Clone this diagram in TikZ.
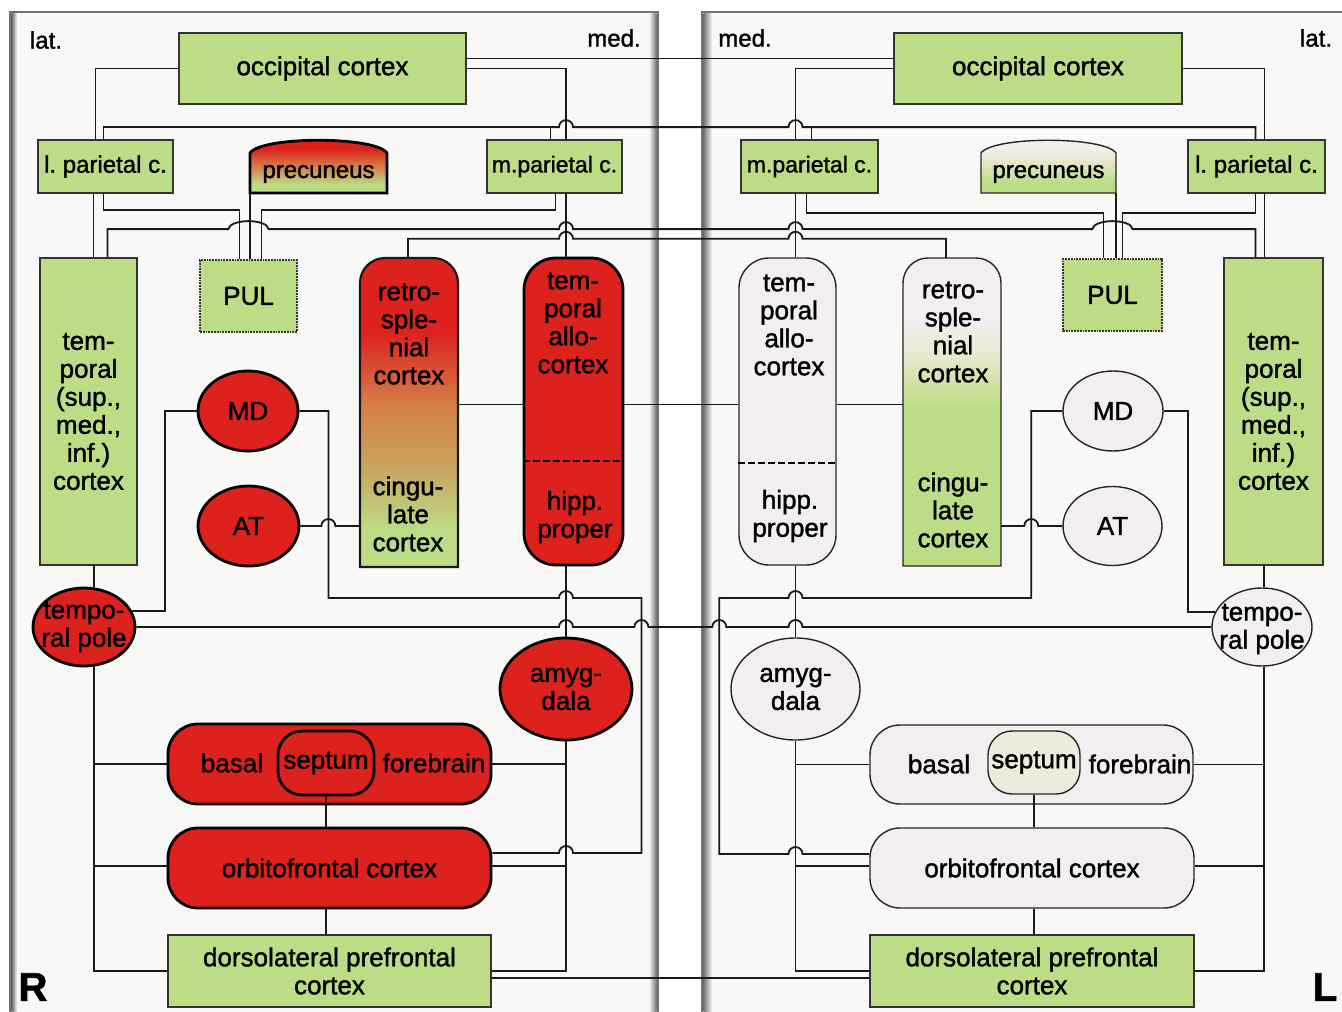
\documentclass[tikz,border=0pt]{standalone}
\usepackage{fontspec}
\setmainfont{Liberation Sans}[FakeBold=1.4]
\usetikzlibrary{shapes,calc}

\definecolor{grn}{RGB}{188,221,133}
\definecolor{redc}{RGB}{221,33,29}
\definecolor{wht}{RGB}{243,239,238}
\definecolor{sepc}{RGB}{238,234,220}
\definecolor{panel}{RGB}{250,248,246}
\definecolor{orng}{RGB}{214,128,72}
\definecolor{tanc}{RGB}{198,165,95}
\definecolor{beig}{RGB}{232,232,205}

\pgfdeclareverticalshading{retroR}{100bp}{color(0bp)=(grn); color(31bp)=(grn); color(41bp)=(tanc); color(51bp)=(orng); color(63bp)=(redc); color(100bp)=(redc)}
\pgfdeclareverticalshading{retroL}{100bp}{color(0bp)=(grn); color(51bp)=(grn); color(59bp)=(beig); color(65bp)=(wht); color(100bp)=(wht)}
\pgfdeclareverticalshading{precR}{100bp}{color(0bp)=(grn); color(32bp)=(grn); color(48bp)=(orng); color(64bp)=(redc); color(100bp)=(redc)}
\pgfdeclareverticalshading{precL}{100bp}{color(0bp)=(grn); color(34bp)=(grn); color(54bp)=(beig); color(66bp)=(wht); color(100bp)=(wht)}

% jumps of a wire over another one
\newcommand\hop[1]{-- ($(#1)+(-7pt,0pt)$) arc (180:0:7pt)}
\newcommand\poh[1]{-- ($(#1)+(7pt,0pt)$) arc (0:180:7pt)}
\newcommand\hopw[1]{-- ($(#1)+(-20pt,0pt)$) arc (180:0:20pt and 8pt)}

\begin{document}
\begin{tikzpicture}[x=1pt, y=-1pt,
  every node/.style={font=\fontsize{26}{28}\selectfont, align=center, inner sep=0pt},
  pfont/.style={font=\fontsize{24}{28}\selectfont},
  gbox/.style 2 args={rectangle, draw=black!80, line width=1.8pt, fill=grn, minimum width=#1, minimum height=#2},
  pbox/.style 2 args={rectangle, draw=black!80, densely dotted, line width=1.8pt, fill=grn, minimum width=#1, minimum height=#2},
  rbox/.style 2 args={rectangle, rounded corners=30pt, draw=black, line width=2.8pt, fill=redc, minimum width=#1, minimum height=#2},
  wbox/.style 2 args={rectangle, rounded corners=30pt, draw=black!85, line width=1.4pt, fill=wht, minimum width=#1, minimum height=#2},
  rell/.style 2 args={ellipse, draw=black, line width=2.8pt, fill=redc, minimum width=#1, minimum height=#2},
  well/.style 2 args={ellipse, draw=black!85, line width=1.4pt, fill=wht, minimum width=#1, minimum height=#2},
  sepline/.style={line width=2.6pt, dash pattern=on 7pt off 3pt},
  wire/.style={line width=1.8pt, draw=black!90}]

  \useasboundingbox (0,0) rectangle (1342,1012);
  \fill[white] (0,0) rectangle (1342,1012);

  %% the two panels
  \filldraw[fill=panel, draw=black!55, line width=2.5pt] (10,12) rectangle (658,1040);
  \filldraw[fill=panel, draw=black!55, line width=2.5pt] (702,12) rectangle (1360,1040);
  \shade[left color=black!60, right color=panel] (11.5,13.5) rectangle (17,1012);
  \shade[left color=panel, right color=black!55] (649,13.5) rectangle (656.5,1012);
  \shade[left color=black!55, right color=panel] (703.5,13.5) rectangle (712,1012);

  \node[font=\fontsize{24}{28}\selectfont] (latR) at (46,40) {lat.};
  \node[font=\fontsize{24}{28}\selectfont] (medR) at (614,38) {med.};
  \node[font=\fontsize{24}{28}\selectfont] (medL) at (745,38) {med.};
  \node[font=\fontsize{24}{28}\selectfont] (latL) at (1316,38) {lat.};
  \node[font=\fontsize{40}{40}\selectfont\bfseries] (labR) at (33,987) {R};
  \node[font=\fontsize{40}{40}\selectfont\bfseries] (labL) at (1325,987) {L};

  %% right hemisphere (left panel)
  \node[gbox={287pt}{71pt}] (occR) at (322.5,68.5) {occipital cortex};
  \node[gbox={135pt}{53pt}, pfont] (lparR) at (105.5,166.5) {l.\ parietal c.};
  \node[gbox={135pt}{53pt}, font=\fontsize{23}{28}\selectfont] (mparR) at (554.5,166.5) {m.parietal c.};
  \shadedraw[shading=precR, draw=black, line width=2.8pt] (250,193) -- (250,153) .. controls (262,136) and (375,136) .. (387,153) -- (387,193) -- cycle;
  \node[pfont, minimum width=137pt, minimum height=38pt] (precR) at (318.5,174) {precuneus};
  \node[pbox={97pt}{72pt}] (PULR) at (248.5,296) {PUL};
  \node[gbox={97pt}{307pt}] (tempR) at (88.5,411.5) {tem-\\poral\\(sup.,\\med.,\\inf.)\\cortex};
  \shadedraw[shading=retroR, draw=black!90, line width=2.2pt] (360,567) -- (360,283) arc (180:90:25pt) -- (433,258) arc (90:0:25pt) -- (458,567) -- cycle;
  \node[minimum width=98pt, minimum height=309pt] (rsR) at (409,412.5) {};
  \node (rsRa) at (409,334) {retro-\\sple-\\nial\\cortex};
  \node (rsRb) at (408,514) {cingu-\\late\\cortex};
  \node[rbox={99pt}{307pt}, rounded corners=32pt] (allR) at (573.5,411.5) {};
  \draw[sepline] ([yshift=-49.5pt]allR.west) -- ([yshift=-49.5pt]allR.east);
  \node (allRa) at (573,323) {tem-\\poral\\allo-\\cortex};
  \node (allRb) at (575,517) {hipp.\\proper};
  \node[rell={100pt}{80pt}] (mdR) at (248,411) {MD};
  \node[rell={101pt}{80pt}] (atR) at (248.5,526) {AT};
  \node[rell={102pt}{78pt}] (tpR) at (84,627) {};
  \node (tpRt) at (84,627) {tempo-\\ral pole};
  \node[rell={132pt}{102pt}] (amyR) at (566,689) {amyg-\\dala};
  \node[rbox={323pt}{80pt}] (bfR) at (329.5,764) {};
  \node[rbox={96pt}{64pt}, rounded corners=24pt] (sepR) at (326,763) {septum};
  \node (basR) at (232,763) {basal};
  \node (fbR) at (434,763) {forebrain};
  \node[rbox={323pt}{80pt}] (ofR) at (329.5,868) {orbitofrontal cortex};
  \node[gbox={323pt}{72pt}] (dlR) at (329.5,971) {dorsolateral prefrontal\\cortex};

  %% left hemisphere (right panel)
  \node[gbox={288pt}{71pt}] (occL) at (1038,68.5) {occipital cortex};
  \node[gbox={137pt}{53pt}, font=\fontsize{23}{28}\selectfont] (mparL) at (809.5,166.5) {m.parietal c.};
  \node[gbox={137pt}{53pt}, pfont] (lparL) at (1256.5,166.5) {l.\ parietal c.};
  \shadedraw[shading=precL, draw=black!85, line width=1.4pt] (981,193) -- (981,153) .. controls (993,136) and (1104,136) .. (1116,153) -- (1116,193) -- cycle;
  \node[pfont, minimum width=135pt, minimum height=38pt] (precL) at (1048.5,174) {precuneus};
  \node[pbox={99pt}{72pt}] (PULL) at (1112.5,295) {PUL};
  \node[wbox={97pt}{307pt}] (allL) at (787.5,411.5) {};
  \draw[sepline] ([yshift=-51.5pt]allL.west) -- ([yshift=-51.5pt]allL.east);
  \node (allLa) at (789,325) {tem-\\poral\\allo-\\cortex};
  \node (allLb) at (790,516) {hipp.\\proper};
  \shadedraw[shading=retroL, draw=black!85, line width=1.4pt] (903,566) -- (903,283) arc (180:90:25pt) -- (976,258) arc (90:0:25pt) -- (1001,566) -- cycle;
  \node[minimum width=98pt, minimum height=308pt] (rsL) at (952,412) {};
  \node (rsLa) at (953,332) {retro-\\sple-\\nial\\cortex};
  \node (rsLb) at (953,510) {cingu-\\late\\cortex};
  \node[well={100pt}{80pt}] (mdL) at (1113,411) {MD};
  \node[well={99pt}{79pt}] (atL) at (1112.5,526) {AT};
  \node[gbox={99pt}{307pt}] (tempL) at (1273.5,411.5) {tem-\\poral\\(sup.,\\med.,\\inf.)\\cortex};
  \node[well={100pt}{78pt}] (tpL) at (1262,627) {};
  \node (tpLt) at (1262,629) {tempo-\\ral pole};
  \node[well={129pt}{102pt}] (amyL) at (795.5,689) {amyg-\\dala};
  \node[wbox={323pt}{79pt}] (bfL) at (1031.5,764.5) {};
  \node[wbox={92pt}{63pt}, fill=sepc, rounded corners=24pt] (sepL) at (1034,762.5) {septum};
  \node (basL) at (939,764) {basal};
  \node (fbL) at (1140,764) {forebrain};
  \node[wbox={324pt}{80pt}] (ofL) at (1032,868) {orbitofrontal cortex};
  \node[gbox={324pt}{72pt}] (dlL) at (1032,971) {dorsolateral prefrontal\\cortex};

  %% helper points
  \coordinate (busP) at ([yshift=12pt]lparR.north);
  \coordinate (busT) at ([yshift=28pt]tempR.north);
  \coordinate (busS) at ([yshift=19pt]rsR.north);
  \coordinate (yAll) at ([yshift=8pt]rsR.east);
  \coordinate (lparRn) at ([xshift=-2pt]lparR.north);
  \coordinate (mparRn) at ([xshift=-4pt]mparR.north);
  \coordinate (mparLn) at ([xshift=2pt]mparL.north);
  \coordinate (lparLb) at ([xshift=-1pt]lparL.north);
  \coordinate (lparLn) at ([xshift=8pt]lparL.north);
  \coordinate (lparRt) at ([xshift=-12pt]lparR.south);
  \coordinate (lparLt) at ([xshift=8pt]lparL.south);
  \coordinate (tempRn) at ([xshift=19pt]tempR.north);
  \coordinate (tempLn) at ([xshift=-18pt]tempL.north);
  \coordinate (rsRn) at ([xshift=-1pt]rsR.north);
  \coordinate (rsLn) at ([xshift=-6pt]rsL.north);
  \coordinate (mdRx) at ([xshift=29pt]mdR.east);
  \coordinate (mdRy) at ([yshift=-187pt]mdR.east);
  \coordinate (mdRz) at ([xshift=17pt]allR.east);
  \coordinate (mdRw) at ([xshift=-32pt]mdR.west);
  \coordinate (mdLx) at ([xshift=-31pt]mdL.west);
  \coordinate (mdLz) at ([xshift=-19pt]allL.west);
  \coordinate (mdLe) at ([xshift=24pt]mdL.east);
  \coordinate (ofRa) at ([yshift=15pt]ofR.east);
  \coordinate (ofLa) at ([yshift=14pt]ofL.west);
  \coordinate (ofRw) at ([yshift=2pt]ofR.west);
  \coordinate (ofRe) at ([yshift=2pt]ofR.east);
  \coordinate (ofLw) at ([yshift=2pt]ofL.west);
  \coordinate (ofLe) at ([yshift=2pt]ofL.east);
  \coordinate (tpRn) at ([xshift=10pt]tpR.north);
  \coordinate (tpRs) at ([xshift=10pt]tpR.south);
  \coordinate (tpLn) at ([xshift=2pt]tpL.north);
  \coordinate (tpLs) at ([xshift=2pt]tpL.south);
  \coordinate (dlRe) at ([yshift=-7pt]dlR.east);

  %% wires, right hemisphere
  \draw[wire] (occR.west) -| ([xshift=-10pt]lparR.north); % occ -> l.par
  \draw[wire] (occR.east) -| (amyR.north |- mparR.north); % occ -> m.par
  \draw[wire] ([yshift=10pt]occR.east) -- ([yshift=10pt]occL.west); % occ R <-> occ L
  \draw[wire] (lparRn) |- (mparRn |- busP) -- (mparRn);
  \draw[wire] (mparRn |- busP) \hop{amyR.north |- busP} \hop{amyL.north |- busP} -| (lparLb);
  \draw[wire] (mparLn |- busP) -- (mparLn);
  \draw[wire] (lparRt) -- (lparRt |- tempR.north); % l.par -> temp
  \draw[wire] ([xshift=-2pt]lparR.south) -- ++(0pt,-16pt) -| ([xshift=-9pt]PULR.north);
  \draw[wire] ([xshift=1pt]mparR.south) -- ++(0pt,-16pt) -| ([xshift=13pt]PULR.north);
  \draw[wire] (precR.south west) -- (precR.south west |- PULR.north);
  \draw[wire] (amyR.north |- mparR.south) -- (amyR.north |- allR.north); % m.par -> allo
  \draw[wire] (tempRn) -- (tempRn |- busT) \hopw{PULR.north |- busT} \hop{amyR.north |- busT} \hop{amyL.north |- busT} \hopw{PULL.north |- busT} -| (tempLn); % temp R <-> temp L
  \draw[wire] (rsRn) -- (rsRn |- busS) \hop{amyR.north |- busS} \hop{amyL.north |- busS} -| (rsLn); % retro R <-> retro L
  \draw[wire] (mdR.east) -| (mdRx |- mdRy) \hop{amyR.north |- mdRy} -| (mdRz |- ofRa) \poh{amyR.north |- ofRa} -- (ofRa); % MD -> OF
  \draw[wire] (mdR.west) -- (mdRw) |- (tpR.18); % MD -> pole
  \draw[wire] (atR.east) \hop{mdRx |- atR.east} -- (rsR.west |- atR.east); % AT -> cing
  \draw[wire] (yAll) -- (yAll -| allR.west);
  \draw[wire] (yAll -| allR.east) -- (yAll -| allL.west); % allo R <-> allo L
  \draw[wire] (yAll -| allL.east) -- (yAll -| rsL.west);
  \draw[wire] (tpRn |- tempR.south) -- (tpRn);
  \draw[wire] (tpRs) |- (dlR.west);
  \draw[wire] (bfR.west) -| (tpRs);
  \draw[wire] (ofRw) -| (tpRs);
  \draw[wire] (amyR.north |- allR.south) -- (amyR.north);
  \draw[wire] (amyR.south) |- (dlR.east);
  \draw[wire] (bfR.east) -| (amyR.south);
  \draw[wire] (ofRe) -| (amyR.south);
  \draw[wire] (sepR.south) -- (sepR.south |- ofR.north);
  \draw[wire] (sepR.south |- ofR.south) -- (sepR.south |- dlR.north);
  \draw[wire] (tpR.east) \hop{amyR.north |- tpR.east} \hop{mdRz |- tpR.east} \hop{mdLz |- tpR.east} \hop{amyL.north |- tpR.east} -- (tpL.west); % pole R <-> pole L
  \draw[wire] (dlRe) -- (dlRe -| dlL.west); % DLPFC R <-> DLPFC L

  %% wires, left hemisphere
  \draw[wire] (occL.west) -| (amyL.north |- mparL.north);
  \draw[wire] (occL.east) -| (lparLn);
  \draw[wire] (amyL.north |- mparL.south) -- (amyL.north |- allL.north);
  \draw[wire] ([xshift=-3pt]mparL.south) -- ++(0pt,-19pt) -| ([xshift=-9pt]PULL.north);
  \draw[wire] (precL.south east) -- (precL.south east |- PULL.north);
  \draw[wire] ([xshift=-1pt]lparL.south) -- ++(0pt,-19pt) -| ([xshift=10pt]PULL.north);
  \draw[wire] (lparLt) -- (lparLt |- tempL.north);
  \draw[wire] (mdL.west) -| (mdLx |- mdRy) \poh{amyL.north |- mdRy} -| (mdLz |- ofLa) \hop{amyL.north |- ofLa} -- (ofLa);
  \draw[wire] (mdL.east) -- (mdLe) |- (tpL.162);
  \draw[wire] (atL.west) \poh{mdLx |- atL.west} -- (rsL.east |- atL.west);
  \draw[wire] (tpLn |- tempL.south) -- (tpLn);
  \draw[wire] (tpLs) |- (dlL.east);
  \draw[wire] (bfL.east) -| (tpLs);
  \draw[wire] (ofLe) -| (tpLs);
  \draw[wire] (amyL.north |- allL.south) -- (amyL.north);
  \draw[wire] (amyL.south) |- (dlL.west);
  \draw[wire] (bfL.west) -| (amyL.south);
  \draw[wire] (ofLw) -| (amyL.south);
  \draw[wire] (sepL.south) -- (sepL.south |- ofL.north);
  \draw[wire] (sepL.south |- ofL.south) -- (sepL.south |- dlL.north);

\end{tikzpicture}
\end{document}
